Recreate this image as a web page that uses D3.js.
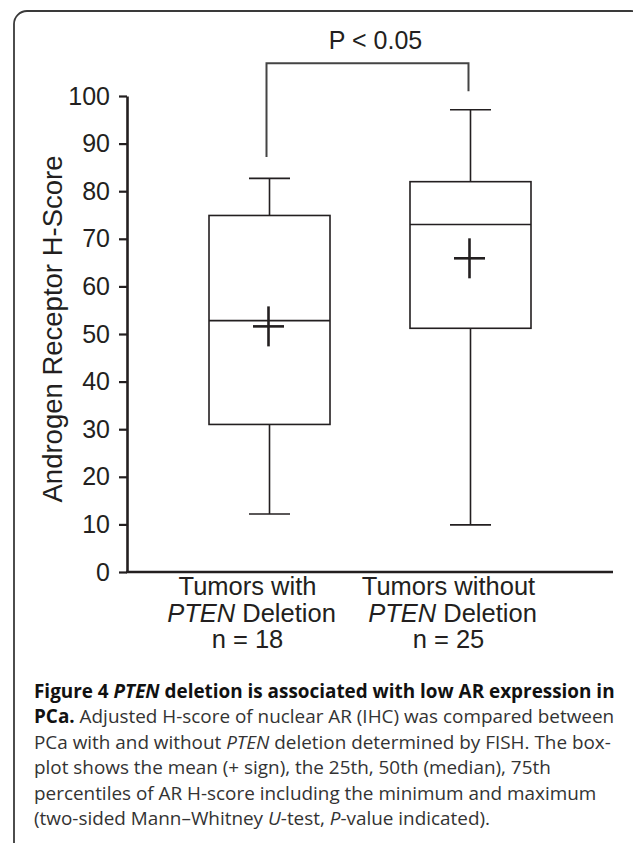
<!DOCTYPE html>
<html>
<head>
<meta charset="utf-8">
<script src="https://cdn.jsdelivr.net/npm/d3@7"></script>
<style>
  body { margin: 0; background: #fff; }
  text { fill: #231f20; }
</style>
</head>
<body>
<div id="chart"></div>
<script>
// data
const groups = ["with", "without"];
const labelLine1 = ["Tumors with", "Tumors without"];
const nLabels = ["n = 18", "n = 25"];
const minVals = [12.2, 9.9];
const q1Vals = [31.0, 51.2];
const medianVals = [52.8, 73.0];
const q3Vals = [74.9, 82.0];
const maxVals = [82.7, 97.1];
const meanVals = [51.6, 65.9];
const yTicks = [0, 10, 20, 30, 40, 50, 60, 70, 80, 90, 100];
// significance bracket: top value, left foot, right foot
const bracketVals = [106.9, 87.2, 101.0];
const pLabel = "P < 0.05";

// caption, one array per line: [text, weight, style]
const caption = [
  [["Figure 4 ", "bold", "normal"], ["PTEN", "bold", "italic"], [" deletion is associated with low AR expression in", "bold", "normal"]],
  [["PCa.", "bold", "normal"], [" Adjusted H-score of nuclear AR (IHC) was compared between", "normal", "normal"]],
  [["PCa with and without ", "normal", "normal"], ["PTEN", "normal", "italic"], [" deletion determined by FISH. The box-", "normal", "normal"]],
  [["plot shows the mean (+ sign), the 25th, 50th (median), 75th", "normal", "normal"]],
  [["percentiles of AR H-score including the minimum and maximum", "normal", "normal"]],
  [["(two-sided Mann\u2013Whitney ", "normal", "normal"], ["U", "normal", "italic"], ["-test, ", "normal", "normal"], ["P", "normal", "italic"], ["-value indicated).", "normal", "normal"]]
];

const W = 633, H = 843;
const chartFont = "'Liberation Sans', Arial, Helvetica, sans-serif";
const capFont = "'Open Sans', 'Noto Sans', sans-serif";
const ink = "#231f20";

const data = groups.map((g, i) => ({
  key: g, min: minVals[i], q1: q1Vals[i], median: medianVals[i],
  q3: q3Vals[i], max: maxVals[i], mean: meanVals[i]
}));

var svg = d3.select("#chart").append("svg")
  .attr("width", W).attr("height", H);

// rounded frame round the figure (runs off the bottom and right edge)
svg.append("rect")
  .attr("x", 14).attr("y", 11)
  .attr("width", 630).attr("height", 900)
  .attr("rx", 13)
  .attr("fill", "none")
  .attr("stroke", "#3a3a3a")
  .attr("stroke-width", 1.8);

// scales
var y = d3.scaleLinear().domain([0, 100]).range([572, 96]);
var x = d3.scalePoint().domain(groups).range([127, 613]).padding(0.709);
const boxW = 121, capW = 41, crossW = 31, crossH = 40;
const labelShift = -22;

// y axis
var yAxis = svg.append("g")
  .attr("transform", "translate(127,0)")
  .call(d3.axisLeft(y).tickValues(yTicks).tickSize(8).tickPadding(9).tickSizeOuter(0));
yAxis.select(".domain").attr("stroke", ink).attr("stroke-width", 2.6);
yAxis.selectAll(".tick line").attr("stroke", ink).attr("stroke-width", 2.2);
yAxis.selectAll(".tick text")
  .style("font-family", chartFont).style("font-size", "25px").attr("fill", ink);

// x axis (no ticks)
svg.append("line")
  .attr("x1", 126).attr("x2", 613)
  .attr("y1", y(0)).attr("y2", y(0))
  .attr("stroke", ink).attr("stroke-width", 2.6);

// y axis title
svg.append("text")
  .attr("transform", "translate(62," + 329 + ") rotate(-90)")
  .attr("text-anchor", "middle")
  .style("font-family", chartFont).style("font-size", "27.5px")
  .text("Androgen Receptor H-Score");

// boxes
var gBox = svg.append("g").attr("stroke", ink).attr("fill", "none");
data.forEach(function (d) {
  var cx = x(d.key);
  var g = gBox.append("g").attr("stroke-width", 1.6);
  // whiskers
  g.append("line").attr("x1", cx).attr("x2", cx).attr("y1", y(d.q3)).attr("y2", y(d.max));
  g.append("line").attr("x1", cx).attr("x2", cx).attr("y1", y(d.q1)).attr("y2", y(d.min));
  g.append("line").attr("x1", cx - capW / 2).attr("x2", cx + capW / 2).attr("y1", y(d.max)).attr("y2", y(d.max));
  g.append("line").attr("x1", cx - capW / 2).attr("x2", cx + capW / 2).attr("y1", y(d.min)).attr("y2", y(d.min));
  // box
  g.append("rect")
    .attr("x", cx - boxW / 2).attr("y", y(d.q3))
    .attr("width", boxW).attr("height", y(d.q1) - y(d.q3));
  // median
  g.append("line").attr("x1", cx - boxW / 2).attr("x2", cx + boxW / 2).attr("y1", y(d.median)).attr("y2", y(d.median));
  // mean cross
  var m = gBox.append("g").attr("stroke-width", 2.6);
  m.append("line").attr("x1", cx - crossW / 2 - 1).attr("x2", cx + crossW / 2 - 1).attr("y1", y(d.mean)).attr("y2", y(d.mean));
  m.append("line").attr("x1", cx - 1).attr("x2", cx - 1).attr("y1", y(d.mean) - crossH / 2).attr("y2", y(d.mean) + crossH / 2);
});

// significance bracket
var bl = x("with") - 3, br = x("without") - 2;
svg.append("path")
  .attr("d", "M" + bl + "," + y(bracketVals[1]) + "V" + y(bracketVals[0]) + "H" + br + "V" + y(bracketVals[2]))
  .attr("fill", "none").attr("stroke", "#444").attr("stroke-width", 2);
svg.append("text")
  .attr("x", (bl + br) / 2 + 8).attr("y", 49)
  .attr("text-anchor", "middle")
  .style("font-family", chartFont).style("font-size", "25px")
  .text(pLabel);

// category labels under the axis, three lines in one text each
var gLabels = svg.append("g")
  .style("font-family", chartFont).style("font-size", "25.5px")
  .attr("text-anchor", "middle");
groups.forEach(function (g, i) {
  var lx = x(g) + labelShift;
  var t = gLabels.append("text").attr("y", 595);
  t.append("tspan").attr("x", lx).text(labelLine1[i]);
  t.append("tspan").attr("x", lx + 4).attr("dy", 27).style("font-style", "italic").text("PTEN");
  t.append("tspan").text(" Deletion");
  t.append("tspan").attr("x", lx).attr("dy", 26).text(nLabels[i]);
});

// figure caption
var gCap = svg.append("g")
  .style("font-family", capFont).style("font-size", "18.9px");
caption.forEach(function (line, i) {
  var t = gCap.append("text").attr("x", 34).attr("y", 698 + i * 25.4);
  line.forEach(function (seg) {
    t.append("tspan")
      .style("font-weight", seg[1])
      .style("font-style", seg[2])
      .attr("fill", seg[1] == "bold" ? "#111" : "#333")
      .text(seg[0]);
  });
});
</script>
</body>
</html>
